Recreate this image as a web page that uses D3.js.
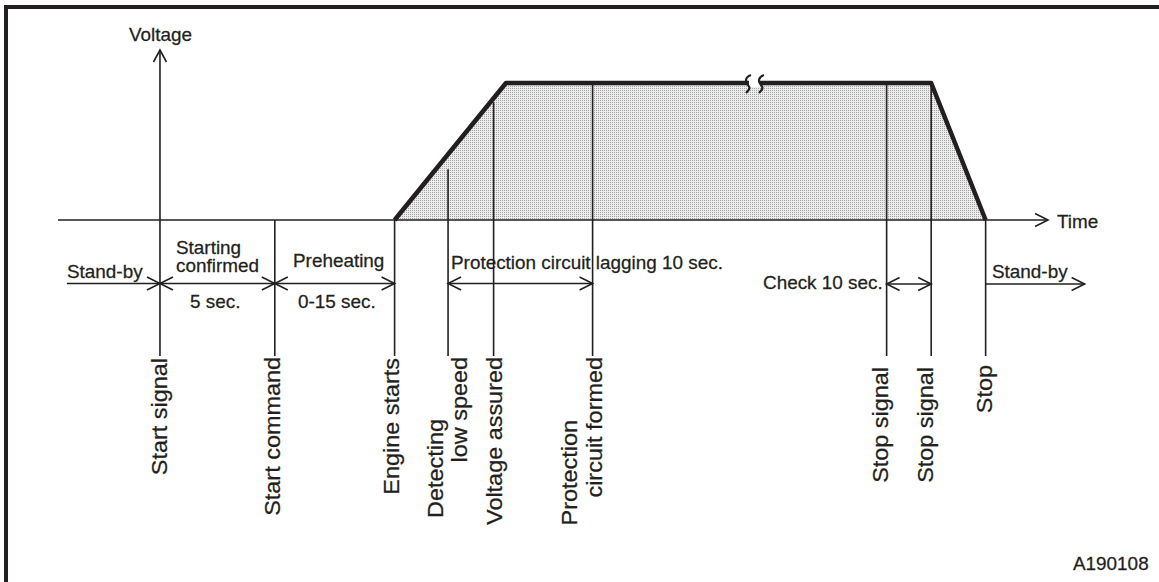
<!DOCTYPE html>
<html>
<head>
<meta charset="utf-8">
<script src="https://cdn.jsdelivr.net/npm/d3@7"></script>
<style>
  html, body { margin: 0; padding: 0; background: #fff; }
  svg { display: block; }
  text { font-family: "Liberation Sans", Arial, sans-serif; fill: #231f20; stroke: #231f20; stroke-width: 0.25; }
</style>
</head>
<body>
<div id="chart"></div>
<script>
// schematic time units (not to scale), voltage 0..1
const eventNames = ["Start signal", "Start command", "Engine starts", "Detecting low speed",
    "Voltage assured", "Protection circuit formed", "Stop signal", "Stop signal", "Stop"];
const eventTimes = [10.3, 21.9, 34.0, 39.4, 44.0, 54.0, 83.7, 88.2, 93.7];
const eventLevels = [0, 0, 0, 0.37, 0.86, 1, 1, 1, 0];
const eventLabels = [["Start signal"], ["Start command"], ["Engine starts"], ["Detecting", "low speed"],
    ["Voltage assured"], ["Protection", "circuit formed"], ["Stop signal"], ["Stop signal"], ["Stop"]];

const waveTimes = [34.0, 45.25, 88.2, 93.7];
const waveVolts = [0, 1, 1, 0];
const breakTime = 70.4;

const spanNames = ["Stand-by", "Starting confirmed", "Preheating", "Protection circuit lagging", "Check", "Stand-by"];
const spanFrom = [0.9, 10.3, 21.9, 39.4, 83.7, 93.7];
const spanTo = [10.3, 21.9, 34.0, 54.0, 88.2, 103.7];
const spanHeads = ["end", "both", "both", "both", "both", "end"];

const ink = "#231f20";
const W = 1159, H = 582;

let svg = d3.select("#chart").append("svg")
    .attr("width", W)
    .attr("height", H);

// set the ranges
let x = d3.scaleLinear().domain([0, 100]).range([58, 1048]);
let y = d3.scaleLinear().domain([0, 1]).range([220, 83]);

// stipple pattern for the voltage area
let defs = svg.append("defs");
let pat = defs.append("pattern")
    .attr("id", "stipple")
    .attr("width", 2).attr("height", 2)
    .attr("patternUnits", "userSpaceOnUse");
pat.append("rect").attr("width", 2).attr("height", 2).attr("fill", "#ececec");
pat.append("rect").attr("width", 1).attr("height", 1).attr("fill", "#a4a4a4");

// frame
svg.append("rect").attr("x", 4).attr("y", 5).attr("width", W - 4).attr("height", 4).attr("fill", ink);
svg.append("rect").attr("x", 4).attr("y", 5).attr("width", 4).attr("height", H - 5).attr("fill", ink);

const wave = waveTimes.map((t, i) => [t, waveVolts[i]]);

// shaded area
svg.append("path")
    .datum(wave)
    .attr("d", d3.area().x(d => x(d[0])).y0(y(0)).y1(d => y(d[1])))
    .attr("fill", "url(#stipple)");

const lineBottom = 356;

// event lines
svg.selectAll(".event")
    .data(eventTimes)
    .enter().append("line")
    .attr("class", "event")
    .attr("x1", d => x(d)).attr("x2", d => x(d))
    .attr("y1", (d, i) => i === 0 ? 50 : y(eventLevels[i]))
    .attr("y2", lineBottom)
    .attr("stroke", ink)
    .attr("stroke-width", 1.6);

// time axis
svg.append("line")
    .attr("x1", x(0)).attr("x2", x(100))
    .attr("y1", y(0)).attr("y2", y(0))
    .attr("stroke", ink).attr("stroke-width", 1.6);

function head(x0, y0, dir, vertical) {
    // open V arrowhead, dir = +1 points right/down, -1 left/up
    let p = d3.path();
    if (vertical) {
        p.moveTo(x0 - 6.5, y0 - dir * 12); p.lineTo(x0, y0); p.lineTo(x0 + 6.5, y0 - dir * 12);
    } else {
        p.moveTo(x0 - dir * 13, y0 - 6.5); p.lineTo(x0, y0); p.lineTo(x0 - dir * 13, y0 + 6.5);
    }
    svg.append("path").attr("d", p.toString())
        .attr("fill", "none").attr("stroke", ink).attr("stroke-width", 1.6);
}
head(x(100), y(0), 1, false);
head(x(eventTimes[0]), 50, -1, true);

// waveform
svg.append("path")
    .datum(wave)
    .attr("d", d3.line().x(d => x(d[0])).y(d => y(d[1])))
    .attr("fill", "none")
    .attr("stroke", ink)
    .attr("stroke-width", 4.5)
    .attr("stroke-linejoin", "round");

// break mark on the flat part
let bx = x(breakTime), by = y(1);
svg.append("rect").attr("x", bx - 6).attr("y", by - 4).attr("width", 11).attr("height", 8).attr("fill", "#fff");
[-7, 6].forEach(off => {
    let cx = bx + off;
    svg.append("path")
        .attr("d", `M${cx + 3},${by - 8} C${cx - 3},${by - 6} ${cx - 3},${by - 1} ${cx},${by + 2} S${cx + 1},${by + 7} ${cx - 2},${by + 10}`)
        .attr("fill", "none").attr("stroke", ink).attr("stroke-width", 2.2);
});

// span arrows
const spanY = [283.5, 283.5, 283.5, 283.5, 284, 284];
spanNames.forEach((s, i) => {
    let x1 = x(spanFrom[i]), x2 = x(spanTo[i]);
    svg.append("line")
        .attr("x1", x1).attr("x2", x2)
        .attr("y1", spanY[i]).attr("y2", spanY[i])
        .attr("stroke", ink).attr("stroke-width", 1.6);
    head(x2, spanY[i], 1, false);
    if (spanHeads[i] === "both") head(x1, spanY[i], -1, false);
});

// horizontal texts
const hSize = 17.5, hStretch = 1.08;
function htext(str, px, py, anchor) {
    svg.append("text")
        .attr("transform", `translate(${px},${py}) scale(${hStretch},1)`)
        .attr("text-anchor", anchor || "start")
        .attr("font-size", hSize)
        .text(str);
}
htext("Voltage", 129, 41);
htext("Time", 1057, 227.5);
htext("Stand-by", 67, 277.5);
htext("Starting", 176, 254);
htext("confirmed", 176, 272);
htext("5 sec.", 190, 308);
htext("Preheating", 293, 266.5);
htext("0-15 sec.", 298, 308);
htext("Protection circuit lagging 10 sec.", 451, 269);
htext("Check 10 sec.", 763, 289);
htext("Stand-by", 992, 277.5);
htext("A190108", 1073, 569.5);

// rotated event labels: baseline offset from the line, top end of text
const vSize = 21.5, vStretch = 1.09;
const labelDx = [[7], [5], [4], [-5, 19.3], [8], [-16, 9.3], [1], [2], [6]];
const labelTop = [[358], [357], [358], [419, 357], [357], [420, 357], [367], [367], [365]];
eventLabels.forEach((lines, i) => {
    lines.forEach((str, j) => {
        svg.append("text")
            .attr("transform", `translate(${x(eventTimes[i]) + labelDx[i][j]},${labelTop[i][j]}) rotate(-90) scale(${vStretch},1)`)
            .attr("text-anchor", "end")
            .attr("font-size", vSize)
            .text(str);
    });
});
</script>
</body>
</html>
